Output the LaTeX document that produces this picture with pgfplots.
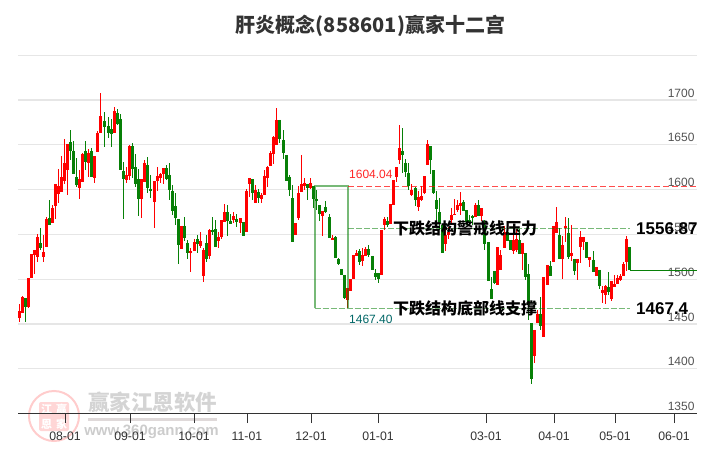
\documentclass[border=0pt]{standalone}
\usepackage{pgfplots}
\usepackage{pgfplotstable}
\usepackage{fontspec}
\pgfplotsset{compat=1.18}
\setmainfont{Liberation Sans}
\newfontfamily\cjk{Noto Sans CJK SC}

\definecolor{upc}{HTML}{FF0000}
\definecolor{downc}{HTML}{078007}
\definecolor{gridc}{HTML}{E6E6E6}

% x is the pixel column of the candle, prices are read off the picture
\pgfplotstableread{
x top bot hi lo
19.3 1464.3 1456.5 1472 1452
22.3 1480 1462 1481 1462
28.3 1501 1469 1501 1468
31.3 1528 1501 1528 1501
34.3 1532.6 1527 1532.6 1505.8
37.3 1547.1 1525.1 1550.4 1519.2
43.3 1530.3 1525.1 1549.3 1519.2
46.3 1567.2 1536.3 1569.4 1536.3
52.3 1579.5 1562.7 1582.8 1562.7
55.3 1606.3 1581.7 1606.3 1567.2
58.3 1604 1595.1 1623 1585
61.3 1614 1597.7 1637.5 1597.7
64.3 1629.7 1609.6 1656.5 1606.3
67.3 1650.9 1621.9 1650.9 1594
79.3 1611.8 1601.8 1621.9 1589.5
82.3 1639.7 1608.8 1640.8 1608.8
88.3 1640.8 1629.7 1645.3 1614
94.3 1637.5 1613.3 1637.5 1607.3
97.3 1663.2 1641.9 1665.4 1641.9
100.3 1682.1 1663.2 1707.8 1663.2
114.3 1687.7 1663.2 1692.2 1663.2
126.3 1616.3 1610.7 1625.2 1607.3
129.3 1648.6 1615.2 1649.8 1610.7
141.3 1611.8 1589.5 1611.8 1568.3
144.3 1629.7 1608.5 1633 1608.5
154.3 1609.6 1586.1 1609.6 1557.1
157.3 1615.2 1609.6 1625.2 1598.4
160.3 1617.4 1612.9 1618.5 1607.3
163.3 1624.1 1617.4 1624.1 1606.3
181.3 1559.4 1533.7 1559.4 1533.7
190.3 1531.5 1529.3 1534.8 1508
194.3 1541.5 1531.5 1544.9 1531.5
200.3 1542.6 1537 1552.7 1534.8
203.3 1532.6 1503.6 1534.8 1496.9
209.3 1554.9 1525.9 1556 1522.6
218.3 1547.1 1542.6 1552.7 1534.8
221.3 1566 1547.1 1566 1544.9
224.3 1575 1563.8 1583.9 1563.8
233.3 1570.5 1566 1575 1562.7
240.3 1568.3 1562.7 1568.3 1551.6
246.3 1598.4 1552.7 1600.7 1552.7
249.3 1613 1606.3 1613 1591.7
255.3 1599.6 1585 1605.1 1585
261.3 1594 1589.5 1596.2 1585
264.3 1615.2 1594 1621.9 1594
267.3 1625.2 1613 1626.3 1602.9
270.3 1640.9 1626.3 1643.1 1626.3
273.3 1658.7 1639.7 1659.8 1628.6
276.3 1677.7 1649.8 1691.1 1649.8
295.3 1562.7 1549.3 1562.7 1549.3
298.3 1596.2 1568.3 1604 1566
301.3 1606.3 1597.3 1638.6 1597.3
304.3 1607.4 1604 1613 1599.6
310.3 1607.4 1601.8 1613 1600.7
322.3 1576.1 1570.5 1576.1 1548.2
332.3 1546 1543.8 1549.3 1543.8
347.3 1490.2 1476.8 1490.2 1467.9
350.3 1500.2 1486.8 1500.2 1486.8
353.3 1527 1500.2 1527 1500.2
356.3 1529.2 1525.9 1532.6 1525.9
362.3 1527 1520.3 1534.8 1514.7
365.3 1533.7 1525.9 1535.9 1525.9
381.3 1554.9 1504.7 1554.9 1504.7
384.3 1567.2 1560.5 1569.4 1554.9
390.3 1583.9 1561.6 1583.9 1561.6
393.3 1610.7 1582.8 1610.7 1582.8
396.3 1625.2 1614 1625.2 1608.4
399.3 1646.4 1633 1672 1628.5
411.3 1599.5 1594 1606.2 1592.8
418.3 1591.7 1580.5 1598.4 1576.1
421.3 1592.8 1588.4 1604 1587.2
424.3 1615.1 1596.2 1615.1 1595
427.3 1650.9 1627.4 1655.3 1627.4
445.3 1549.3 1539.3 1558.2 1531.4
448.3 1552.6 1549.3 1558.2 1544.8
451.3 1571.6 1566 1579.4 1560.5
454.3 1572.7 1571.6 1589.5 1571.6
457.3 1582.8 1577.2 1588.4 1575
460.3 1585 1581.7 1597.3 1571.6
475.3 1582.8 1569.4 1585 1569.4
481.3 1579.4 1570.5 1579.4 1564.9
497.3 1535.9 1493.5 1535.9 1493.5
500.3 1527 1510.2 1532.6 1510.2
504.3 1552.6 1534.8 1559.3 1534.8
513.3 1543.7 1531.4 1550.4 1528.1
516.3 1544.5 1532.6 1555.7 1530.8
522.3 1540.8 1528.2 1540.8 1510.3
534.3 1443.4 1414.3 1443.4 1406.9
537.7 1461.2 1450.8 1465.7 1450.8
543.3 1502.1 1435.5 1502.1 1435.5
547.3 1515.9 1493.6 1515.9 1493.6
553.3 1559.4 1519.2 1559.4 1519.2
556.3 1563.9 1551.6 1580.6 1551.6
562.3 1538.2 1522.6 1548.3 1500.3
565.3 1559.4 1557.2 1569.5 1541.6
571.3 1529.3 1525.9 1560.5 1520.4
577.3 1522.6 1518.1 1522.6 1499.2
580.3 1547.2 1536 1553.8 1518.1
583.3 1547.2 1541.6 1547.2 1532.6
589.3 1524.8 1521.5 1524.8 1513.7
596.3 1513.7 1503.6 1513.7 1503.6
602.3 1488 1484.6 1492.5 1473.5
605.3 1492.5 1482.4 1493.6 1472.4
611.3 1498 1478 1498 1475.7
614.3 1494.7 1491.3 1504.7 1491.3
617.3 1501.4 1494.7 1504.7 1494.7
620.3 1503.6 1499.2 1505.9 1498
623.3 1517 1503.6 1519.2 1503.6
626.3 1544.9 1519.2 1548.3 1509.2
}\upcandles

\pgfplotstableread{
x top bot hi lo
25.3 1479 1469 1479 1452
40.3 1540.4 1534.8 1557.1 1532.6
49.3 1568.3 1560.9 1588.4 1560.9
70.3 1653.1 1643.1 1666.5 1633
73.3 1643.1 1617.4 1654.2 1617.4
76.3 1614 1605.1 1635.3 1602.9
85.3 1643.1 1630.8 1654.2 1621.9
91.3 1643.1 1614 1646.4 1614
104.3 1676.5 1669.8 1686.6 1647.5
108.3 1671 1663.5 1681 1657.6
111.3 1667.2 1662 1678.8 1647.5
117.3 1685.5 1673.2 1689.9 1672.1
120.3 1678.8 1621.9 1684.4 1621.9
123.3 1620.7 1611.8 1630.8 1567.2
132.3 1648.6 1623 1652 1612.9
135.3 1625.2 1606.3 1639.7 1602.9
138.3 1611.8 1589.5 1623 1570.5
147.3 1627.4 1601.8 1636.4 1596.2
150.3 1600.7 1598.4 1616.3 1590.6
166.3 1624.1 1611.8 1627.4 1610.7
169.3 1616.3 1599.5 1629.7 1588.4
172.3 1598.4 1576.1 1605.1 1571.6
175.3 1581.7 1568.3 1596.2 1560.5
178.3 1567.2 1538.2 1567.2 1517
184.3 1559.4 1546 1569.4 1542.6
187.3 1540.4 1529.3 1543.8 1522.6
197.3 1544.9 1539.3 1549.3 1529.3
206.3 1540.4 1522.6 1549.3 1519.2
212.3 1554.9 1552.7 1569.4 1549.3
215.3 1556 1536 1566 1536
227.3 1575 1565 1582.8 1548.2
230.3 1565 1561.6 1572.8 1561.6
236.3 1567.2 1563.8 1572.8 1558.3
243.3 1563.8 1548.2 1563.8 1548.2
252.3 1611.8 1596.2 1611.8 1588.4
258.3 1597.3 1590.6 1600.7 1585
279.3 1677.7 1656.5 1677.7 1652
283.3 1655.4 1640.9 1666.5 1634.2
286.3 1638.6 1609.6 1638.6 1609.6
289.3 1614.1 1599.6 1616.3 1592.9
292.3 1590.6 1541.5 1605.1 1541.5
307.3 1606.3 1601.8 1606.3 1588.4
313.3 1604 1589.5 1604 1579.5
316.3 1589.5 1587.3 1599.6 1577.2
319.3 1582.8 1572.8 1582.8 1565
325.3 1580.6 1575 1587.3 1573.9
329.3 1569.4 1546 1572.8 1546
335.3 1547.1 1523.7 1548.2 1523.7
338.3 1522.6 1517 1523.7 1515.9
341.3 1511.4 1504.7 1511.4 1504.7
344.3 1504.7 1479 1504.7 1477.9
359.3 1531.4 1519.2 1533.7 1515.8
368.3 1533.7 1527 1538.1 1524.7
372.3 1525.9 1510.2 1525.9 1510.2
375.3 1506.9 1502.4 1511.4 1499
378.3 1506.9 1500.2 1506.9 1495.7
387.3 1565 1560.5 1569.4 1558.2
402.3 1643 1638.6 1668.7 1618.5
405.3 1629.7 1619.6 1634.1 1614
408.3 1618.5 1604 1629.7 1599.5
415.3 1601.8 1588.4 1602.9 1581.7
430.3 1648.6 1633 1648.6 1617.4
433.3 1621.8 1596.2 1621.8 1595
436.3 1588.4 1578.3 1598.4 1564.9
439.3 1575 1561.6 1590.6 1555
442.3 1560.5 1529.2 1560.5 1529.2
463.3 1586.1 1576.1 1588.4 1576.1
466.3 1577.2 1563.8 1577.2 1560.5
469.3 1566 1563.8 1571.6 1560.5
472.3 1570.5 1568.3 1571.6 1560.5
478.3 1582.8 1570.5 1588.4 1570.5
484.3 1560.5 1539.3 1566 1532.6
488.3 1541.5 1498 1541.5 1498
491.3 1489 1477.9 1502.4 1477.9
494.3 1509.1 1495.7 1509.1 1494.6
507.3 1552.6 1542.6 1552.6 1542.6
510.3 1543.7 1532.6 1543.7 1532.6
519.3 1543.8 1528.2 1555.7 1528.2
525.3 1528.9 1502.1 1528.9 1499.2
528.3 1505.9 1471.3 1517 1454.5
531.3 1450.8 1388.7 1450.8 1383.1
540.7 1461.2 1447.8 1480.2 1443.4
550.3 1514.8 1503.6 1520.4 1503.6
559.3 1549.4 1522.6 1557.2 1522.6
568.3 1551.6 1524.8 1568.4 1522.6
574.3 1522.6 1509.2 1522.6 1504.7
586.3 1541.6 1523.7 1541.6 1523.7
593.3 1521.5 1508.1 1531.5 1508.1
599.3 1510.3 1492.5 1510.3 1489.1
608.3 1491.3 1485.8 1508.1 1482.4
629.3 1536 1510.3 1536 1510.3
}\downcandles

\newcommand{\candles}[2]{%
  \addplot[forget plot, draw=none, mark=none, error bars/.cd, y dir=both, y explicit,
    error mark=none, error bar style={draw=#2, solid, line width=1.1pt}]
    table[x=x, y=top, y error plus expr=\thisrow{hi}-\thisrow{top}, y error minus expr=\thisrow{top}-\thisrow{lo}] {#1};
  \addplot[forget plot, draw=none, mark=none, error bars/.cd, y dir=minus, y explicit,
    error mark=none, error bar style={draw=#2, solid, line width=3.3pt}]
    table[x=x, y=top, y error minus expr=\thisrow{top}-\thisrow{bot}] {#1};
}

\begin{document}
\begin{tikzpicture}
\begin{scope}[x=1pt,y=-1pt]
\useasboundingbox (0,0) rectangle (726,450);
% watermark
\draw[red!20, line width=2pt] (54,416) circle (25);
\fill[red!16, rounded corners=2pt] (39,402) rectangle (69,431);
\node[white, font=\cjk\bfseries\fontsize{11}{11}\selectfont] at (46.5,409) {江};
\node[white, font=\cjk\bfseries\fontsize{11}{11}\selectfont] at (61.5,409) {赢};
\node[white, font=\cjk\bfseries\fontsize{11}{11}\selectfont] at (46.5,424) {恩};
\node[white, font=\cjk\bfseries\fontsize{11}{11}\selectfont] at (61.5,424) {家};
\node[black!17, font=\cjk\bfseries\fontsize{21.5}{22}\selectfont] at (152.5,402) {赢家江恩软件};
\fill[red!15!black!15] (88,418) rectangle (217,420.5);
\node[black!20, font=\bfseries\fontsize{15}{15}\selectfont] at (151.5,432) {www.360gann.com};
% title
\node[black!80, font=\cjk\bfseries\fontsize{20}{22}\selectfont] at (370.5,26) {肝炎概念(858601)赢家十二宫};
\end{scope}

\begin{axis}[
  at={(18pt,-413.6pt)}, anchor=south west,
  scale only axis, width=679pt, height=358.4pt,
  xmin=18, xmax=697, ymin=1350, ymax=1750,
  clip=false,
  axis x line*=bottom, axis y line*=right,
  axis line style={-},
  y axis line style={draw=none},
  x axis line style={draw=black!80, line width=0.9pt},
  ytick={1350,1400,...,1750},
  yticklabels={1350,1400,1450,1500,1550,1600,1650,1700,},
  ymajorgrids, grid style={gridc, line width=1.1pt},
  major tick length=0pt,
  yticklabel style={anchor=east, xshift=1pt, yshift=7pt, text=black!68, font=\fontsize{12}{14}\selectfont},
  xtick={65,130,194,247,311,378,486,554,615,674},
  xticklabels={08-01,09-01,10-01,11-01,12-01,01-01,03-01,04-01,05-01,06-01},
  xtick style={draw=none},
  xticklabel style={text=black!80, yshift=-14.5pt, font=\fontsize{12.3}{14}\selectfont},
  extra x ticks={65,130,194,247,311,378,486,554,615,674},
  extra x tick labels={},
  extra x tick style={major tick length=9.5pt, tick align=outside, xtick style={draw=black!80, line width=0.9pt}, xmajorgrids=false},
]
\candles{\upcandles}{upc}
\candles{\downcandles}{downc}

% structure box and levels
\addplot[forget plot, mark=none, draw=downc, opacity=.55, line width=1.6pt] coordinates
  {(314.7,1467.4) (314.7,1604.04) (348,1604.04) (348,1467.4)};
\addplot[forget plot, mark=none, draw=red, opacity=.7, line width=.9pt, dash pattern=on 6pt off 3pt] coordinates
  {(348,1604.04) (697,1604.04)};
\addplot[forget plot, mark=none, draw=downc, opacity=.55, line width=1.1pt, dash pattern=on 6pt off 2pt] coordinates
  {(348,1556.87) (630,1556.87)};
\addplot[forget plot, mark=none, draw=downc, opacity=.55, line width=1.1pt, dash pattern=on 6pt off 2pt] coordinates
  {(314.7,1467.4) (630,1467.4)};
\addplot[forget plot, mark=none, draw=downc, line width=.5pt] coordinates
  {(630,1510.3) (697,1510.3)};

\node[anchor=west, inner sep=0pt, text=red!85, font=\fontsize{12}{14}\selectfont] at (axis cs:349,1617.5) {1604.04};
\node[anchor=west, inner sep=0pt, text=teal!80!black, font=\fontsize{12}{14}\selectfont] at (axis cs:349,1455) {1467.40};
\node[anchor=west, inner sep=0pt, font=\cjk\bfseries\fontsize{16}{18}\selectfont] at (axis cs:393,1556.87) {下跌结构警戒线压力};
\node[anchor=west, inner sep=0pt, font=\cjk\bfseries\fontsize{16}{18}\selectfont] at (axis cs:393,1467.4) {下跌结构底部线支撑};
\node[anchor=west, inner sep=0pt, font=\bfseries\fontsize{17}{19}\selectfont] at (axis cs:636,1556.87) {1556.87};
\node[anchor=west, inner sep=0pt, font=\bfseries\fontsize{17}{19}\selectfont] at (axis cs:636,1467.4) {1467.4};
\end{axis}
\end{tikzpicture}
\end{document}
